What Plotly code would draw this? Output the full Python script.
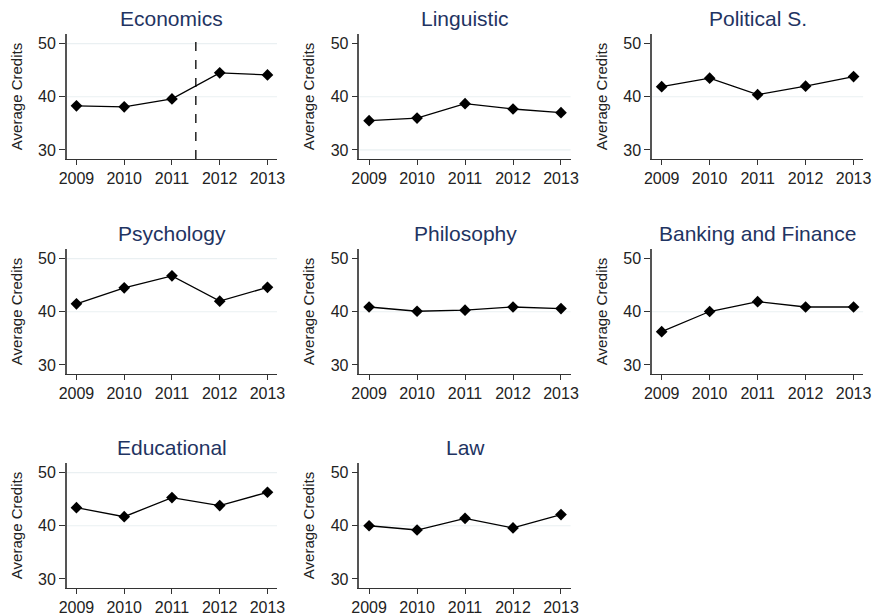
import plotly.graph_objects as go

# Average credits per department, 2009-2013
years = [2009, 2010, 2011, 2012, 2013]
departments = ["Economics", "Linguistic", "Political S.",
               "Psychology", "Philosophy", "Banking and Finance",
               "Educational", "Law"]
economics = [38.3, 38.1, 39.6, 44.5, 44.1]
linguistic = [35.5, 36.0, 38.7, 37.7, 37.0]
political = [41.9, 43.5, 40.4, 42.0, 43.8]
psychology = [41.5, 44.5, 46.75, 42.0, 44.6]
philosophy = [40.9, 40.1, 40.3, 40.9, 40.6]
banking = [36.25, 40.05, 41.9, 40.9, 40.9]
educational = [43.4, 41.7, 45.3, 43.8, 46.3]
law = [40.0, 39.2, 41.4, 39.6, 42.1]
series = [economics, linguistic, political, psychology,
          philosophy, banking, educational, law]

# Reform year marker in the Economics panel
reform_x = 2011.5

# Horizontal gridlines drawn in each panel
grid_levels = [[50, 40], [40, 30], [40], [50, 40], [40], [40], [50, 40], [40]]

W, H = 880, 616
col_px = [(60, 274), (358, 573), (656, 871)]
row_px = [(34, 159), (249, 374), (463, 588)]

TITLE_COLOR = "#1f3462"
FONT = "Liberation Sans, Arial, sans-serif"

fig = go.Figure()
layout = dict(width=W, height=H, margin=dict(l=0, r=0, t=0, b=0),
              paper_bgcolor="white", plot_bgcolor="white",
              showlegend=False, font=dict(family=FONT, color="#222"))
annotations = []
shapes = []

for i, (name, vals) in enumerate(zip(departments, series)):
    r, c = divmod(i, 3)
    x0, x1 = col_px[c]
    y0, y1 = row_px[r]
    n = i + 1
    xa = "xaxis" if n == 1 else f"xaxis{n}"
    ya = "yaxis" if n == 1 else f"yaxis{n}"
    xref = "x" if n == 1 else f"x{n}"
    yref = "y" if n == 1 else f"y{n}"

    fig.add_trace(go.Scatter(
        x=years, y=vals, mode="lines+markers", xaxis=xref, yaxis=yref,
        line=dict(color="black", width=1.3),
        marker=dict(symbol="diamond", size=9, color="black"),
        cliponaxis=False))

    layout[xa] = dict(domain=[x0 / W, x1 / W], anchor=yref,
                      range=[2008.8, 2013.2], tickvals=years,
                      ticktext=[str(y) for y in years],
                      showgrid=False, zeroline=False,
                      showline=True, linecolor="#333", linewidth=1.3,
                      ticks="outside", ticklen=5, tickcolor="#333",
                      tickfont=dict(size=16, color="#222"))
    layout[ya] = dict(domain=[1 - y1 / H, 1 - y0 / H], anchor=xref,
                      range=[28.3, 51.8], tickvals=[30, 40, 50],
                      showgrid=False, zeroline=False,
                      showline=True, linecolor="#555", linewidth=1.6,
                      ticks="outside", ticklen=6, tickcolor="#333",
                      tickfont=dict(size=16, color="#222"),
                      title=dict(text="Average Credits", standoff=12,
                                 font=dict(size=15, color="#222")))

    for g in grid_levels[i]:
        shapes.append(dict(type="line", xref=f"{xref} domain", yref=yref,
                           x0=0, x1=1, y0=g, y1=g, layer="below",
                           line=dict(color="#eaf0f2", width=1.2)))

    annotations.append(dict(text=name, x=(x0 + x1) / 2 / W,
                            y=1 - (y0 - 16) / H, xref="paper", yref="paper",
                            showarrow=False, xanchor="center", yanchor="middle",
                            font=dict(size=21, color=TITLE_COLOR)))

# Dashed vertical line in the Economics panel
shapes.append(dict(type="line", xref="x", yref="y domain",
                   x0=reform_x, x1=reform_x, y0=0, y1=1,
                   line=dict(color="black", width=1.3, dash="dash")))

layout["annotations"] = annotations
layout["shapes"] = shapes
fig.update_layout(**layout)
fig.write_html("out.html")
